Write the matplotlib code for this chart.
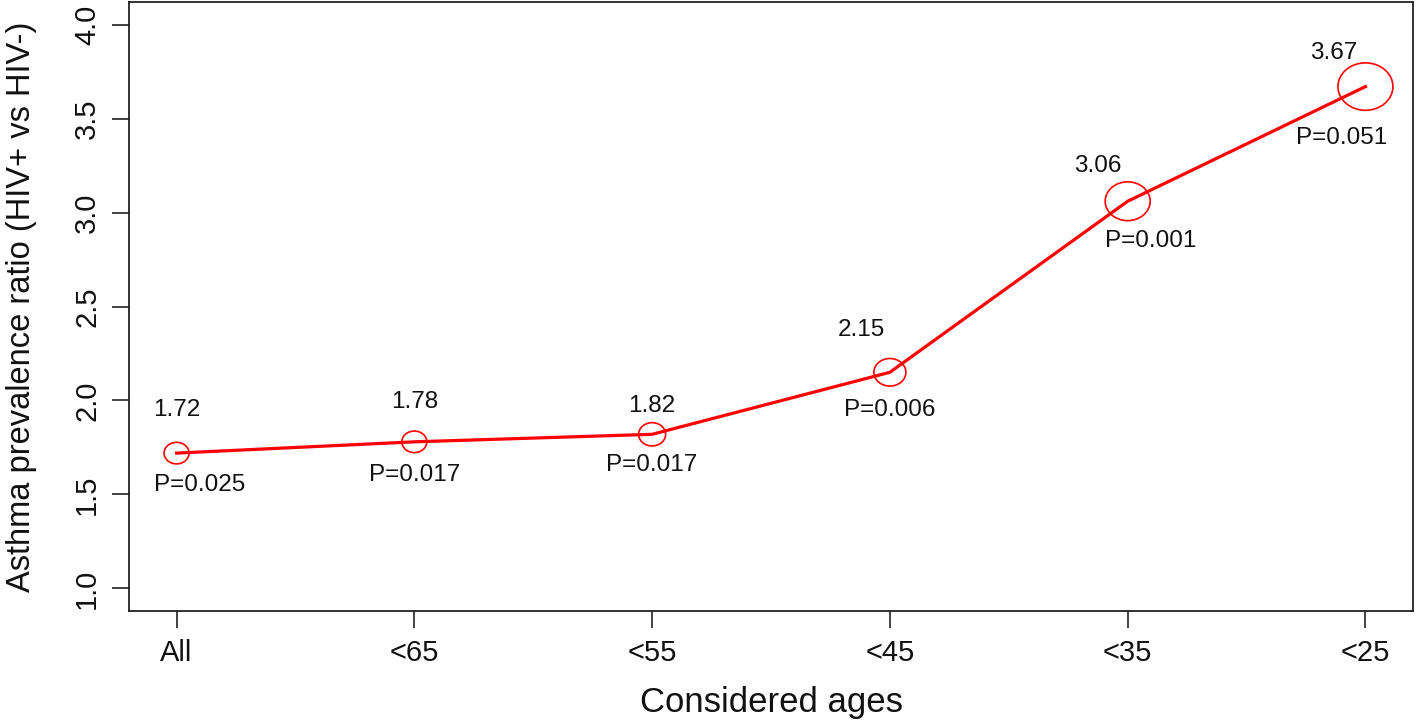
import numpy as np
import matplotlib
matplotlib.use("Agg")
from matplotlib import pyplot as plt
from matplotlib.path import Path

plt.rcParams['font.family'] = ['Liberation Sans', 'DejaVu Sans']

# data
ages = ["All", "<65", "<55", "<45", "<35", "<25"]
ratios = [1.72, 1.78, 1.82, 2.15, 3.06, 3.67]
pvals = ["P=0.025", "P=0.017", "P=0.017", "P=0.006", "P=0.001", "P=0.051"]

# styling: circle widths (px) and label offsets (px) per point
circle_px = [25, 25, 27, 32, 45, 55]
val_off = [(0, 43), (0, 40), (0, 28), (-29, 42), (-30, 35), (-32, 34)]
p_off = [(23, -32), (0, -33), (0, -31), (0, -38), (23, -40), (-24, -51)]

# slightly wide ellipse marker (the original is a stretched R plot)
circ = Path.unit_circle()
ell = Path(circ.vertices * np.array([1.16, 1.0]), circ.codes)

fig = plt.figure(figsize=(14.18, 7.22), dpi=100)
ax = fig.add_axes([129 / 1418, 1 - 611 / 722, (1413 - 129) / 1418, (611 - 2) / 722])

x = np.arange(1, len(ages) + 1)
ax.plot(x, ratios, color="#ff0000", lw=2.3, zorder=2)
ax.scatter(x, ratios, s=(np.array(circle_px) * 0.72) ** 2, marker=ell,
           facecolors="none", edgecolors="#ff0000", linewidths=1.2, zorder=3)

for i in range(len(ages)):
    ax.annotate("%.2f" % ratios[i], (x[i], ratios[i]), xytext=val_off[i],
                textcoords="offset pixels", ha="center", va="center",
                fontsize=17.5, color="#111111")
    ax.annotate(pvals[i], (x[i], ratios[i]), xytext=p_off[i],
                textcoords="offset pixels", ha="center", va="center",
                fontsize=17.5, color="#111111")

ax.set_xlim(0.8, 6.2)
ax.set_ylim(0.88, 4.12)
ax.set_xticks(x)
ax.set_xticklabels(ages)
ax.set_yticks([1.0, 1.5, 2.0, 2.5, 3.0, 3.5, 4.0])
ax.set_yticklabels(["1.0", "1.5", "2.0", "2.5", "3.0", "3.5", "4.0"],
                   rotation=90, va="center")
ax.tick_params(direction="out", length=12, width=1.2, labelsize=21,
               pad=8, color="#222222", labelcolor="#111111")

for s in ax.spines.values():
    s.set_linewidth(1.3)
    s.set_color("#222222")

ax.set_xlabel("Considered ages", fontsize=25, color="#111111")
ax.set_ylabel("Asthma prevalence ratio (HIV+ vs HIV-)", fontsize=23.5, color="#111111")
ax.xaxis.set_label_coords(0.5, -0.123)
ax.yaxis.set_label_coords(-0.0717, 0.5)

plt.savefig("out.png", dpi=100)
